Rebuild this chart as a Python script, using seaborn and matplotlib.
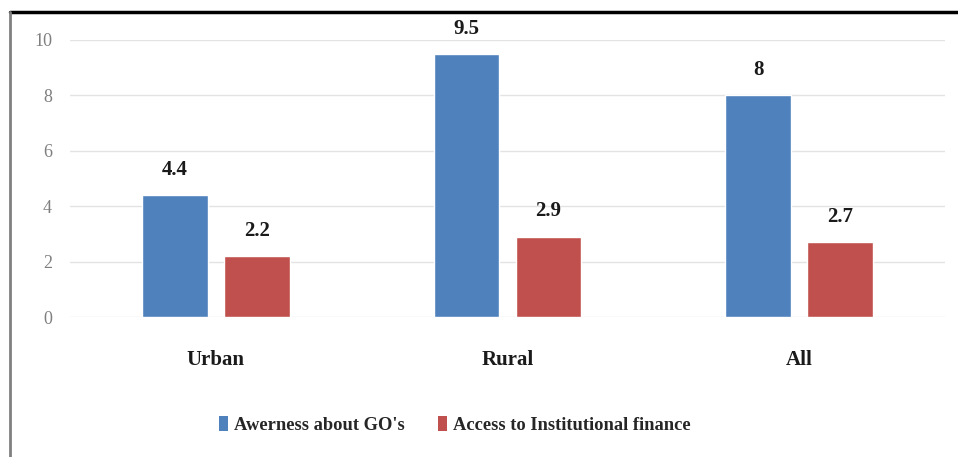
import matplotlib
matplotlib.use("Agg")
import matplotlib.pyplot as plt
import seaborn as sns
import pandas as pd
from matplotlib.lines import Line2D
from matplotlib.patches import Patch

categories = ["Urban", "Rural", "All"]
series_names = ["Awerness about GO's", "Access to Institutional finance"]
awareness = [4.4, 9.5, 8]
access = [2.2, 2.9, 2.7]
yticks = [0, 2, 4, 6, 8, 10]
colors = ["#4F81BD", "#C0504D"]

df = pd.DataFrame({
    "cat": categories * 2,
    "series": [series_names[0]] * 3 + [series_names[1]] * 3,
    "val": awareness + access,
})

sns.set_theme(style="white")
plt.rcParams["font.family"] = ["Liberation Serif", "DejaVu Serif"]

fig = plt.figure(figsize=(9.58, 4.57), dpi=100)
ax = fig.add_axes([70/958, 1-317/457, 875/958, 277/457])

sns.barplot(data=df, x="cat", y="val", hue="series", palette=colors,
            width=0.562, gap=0.2, ax=ax, legend=False, saturation=1)

ax.set_ylim(0, 10)
ax.set_xlim(-0.5, 2.5)
ax.set_yticks(yticks)
ax.set_yticklabels([str(t) for t in yticks], color="#7f7f7f", fontsize=13)
ax.tick_params(axis="y", length=0, pad=13)
ax.tick_params(axis="x", length=0, pad=24)
for lbl in ax.get_xticklabels():
    lbl.set_fontweight("bold")
    lbl.set_fontsize(15)
    lbl.set_color("#1a1a1a")
ax.set_xlabel("")
ax.set_ylabel("")
ax.yaxis.grid(True, color="#e3e3e3", linewidth=1)
ax.set_axisbelow(True)
for s in ax.spines.values():
    s.set_visible(False)

for cont in ax.containers:
    labels = [("%g" % b.get_height()) for b in cont]
    ax.bar_label(cont, labels=labels, padding=11, fontsize=15, fontweight="bold",
                 color="#1a1a1a", clip_on=False)

handles = [Patch(facecolor=c, edgecolor="none") for c in colors]
fig.legend(handles, series_names, loc="center", bbox_to_anchor=(455/958, 1-425/457),
           ncol=2, frameon=False, handlelength=0.45, handleheight=0.9, handletextpad=0.35,
           columnspacing=1.8, prop={"family": "Liberation Serif", "weight": "bold", "size": 13.3})

fig.add_artist(Line2D([10/958, 1], [1-12/457, 1-12/457], color="black", linewidth=2.5,
                      transform=fig.transFigure))
fig.add_artist(Line2D([10/958, 10/958], [0, 1-12/457], color="#808080", linewidth=2,
                      transform=fig.transFigure))

fig.savefig("out.png", dpi=100)
